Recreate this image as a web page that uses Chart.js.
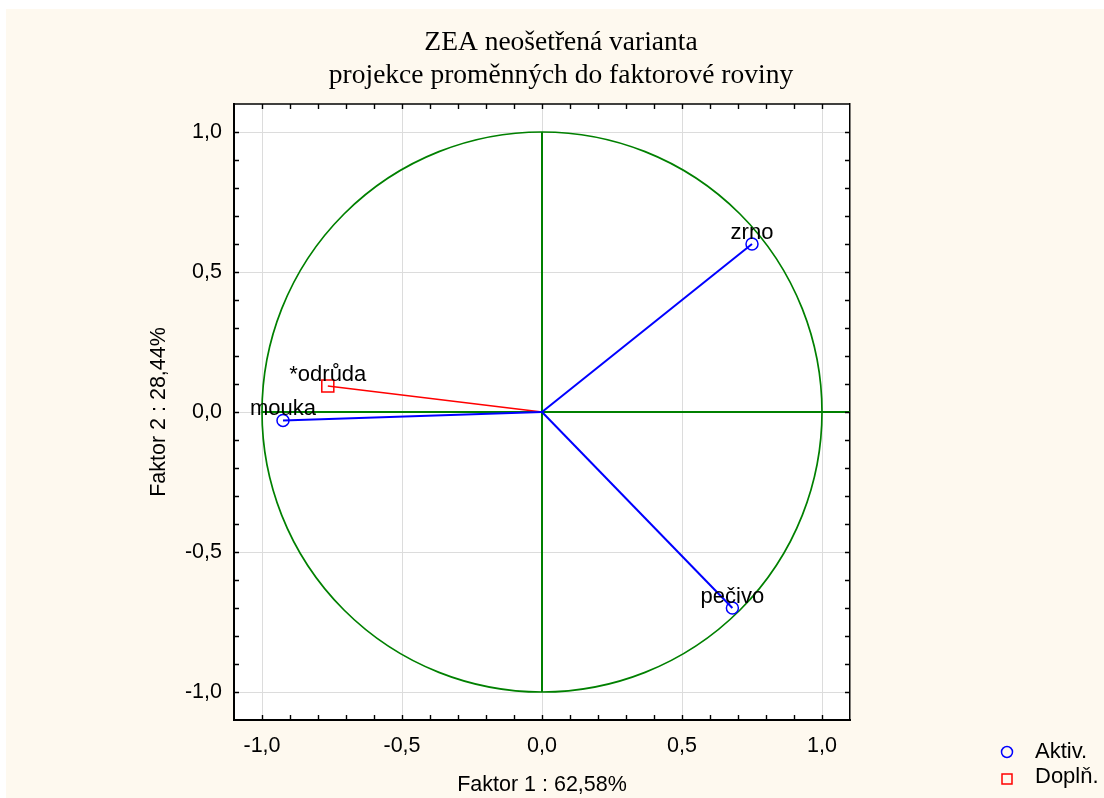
<!DOCTYPE html>
<html>
<head>
<meta charset="utf-8">
<script src="https://cdn.jsdelivr.net/npm/chart.js@4.4.0/dist/chart.umd.min.js"></script>
<style>
	html, body { margin: 0; padding: 0; background: #fff; }
</style>
</head>
<body>
<canvas id="graf" width="1104" height="798"></canvas>
<script>
// data
var nazvy = ["zrno", "pečivo", "mouka", "*odrůda"];
var faktor1 = [0.75, 0.68, -0.925, -0.765];
var faktor2 = [0.60, -0.70, -0.03, 0.093];
var skupina = ["Aktiv.", "Aktiv.", "Aktiv.", "Doplň."];
var tickyOs = [-1.0, -0.5, 0.0, 0.5, 1.0];
var nadpis = ["ZEA neošetřená varianta", "projekce proměnných do faktorové roviny"];
var popisX = "Faktor 1 : 62,58%";
var popisY = "Faktor 2 : 28,44%";
var skupiny = ["Aktiv.", "Doplň."];
var barvySkupin = { "Aktiv.": "#0000ff", "Doplň.": "#ff0000" };
var tvarySkupin = { "Aktiv.": "circle", "Doplň.": "rect" };

var sans = '"Liberation Sans", Arial, sans-serif';
var serif = '"Liberation Serif", "Times New Roman", serif';

carka = (v) => v.toFixed(1).replace('.', ',');

var datasety = [];
for (let i = 0; i < nazvy.length; i++) {
	let b = barvySkupin[skupina[i]];
	datasety.push({
		label: nazvy[i],
		data: [{ x: 0, y: 0 }, { x: faktor1[i], y: faktor2[i] }],
		showLine: true,
		borderColor: b,
		borderWidth: skupina[i] === "Aktiv." ? 2 : 1.5,
		pointRadius: [0, tvarySkupin[skupina[i]] === "rect" ? 8.5 : 6],
		pointStyle: tvarySkupin[skupina[i]],
		pointBorderColor: b,
		pointBackgroundColor: 'rgba(0,0,0,0)',
		pointBorderWidth: 1.5
	});
}

var kresleni = {
	id: 'kresleni',
	beforeDraw: (chart) => {
		const c = chart.ctx, a = chart.chartArea;
		c.save();
		c.fillStyle = '#ffffff';
		c.fillRect(0, 0, chart.width, chart.height);
		c.fillStyle = '#fef9ef';
		c.fillRect(6, 9, chart.width, chart.height);
		c.fillStyle = '#ffffff';
		c.fillRect(a.left, a.top, a.right - a.left, a.bottom - a.top);
		c.restore();
	},
	beforeDatasetsDraw: (chart) => {
		const c = chart.ctx, a = chart.chartArea;
		const xs = chart.scales.x, ys = chart.scales.y;
		const x0 = xs.getPixelForValue(0), y0 = ys.getPixelForValue(0);
		const rx = xs.getPixelForValue(1) - x0, ry = y0 - ys.getPixelForValue(1);
		c.save();
		c.strokeStyle = '#008000';
		c.lineWidth = 1.7;
		c.beginPath();
		c.ellipse(x0, y0, rx, ry, 0, 0, Math.PI * 2);
		c.stroke();
		c.lineWidth = 2;
		c.beginPath();
		c.moveTo(xs.getPixelForValue(-1), y0);
		c.lineTo(a.right, y0);
		c.moveTo(x0, ys.getPixelForValue(1));
		c.lineTo(x0, ys.getPixelForValue(-1));
		c.stroke();
		c.restore();
	},
	afterDraw: (chart) => {
		const c = chart.ctx, a = chart.chartArea;
		const xs = chart.scales.x, ys = chart.scales.y;
		c.save();
		// top frame
		c.strokeStyle = '#000';
		c.lineWidth = 1.5;
		c.beginPath();
		c.moveTo(a.left, a.top);
		c.lineTo(a.right, a.top);
		c.stroke();
		// inward ticks every 0.1
		c.lineWidth = 1.4;
		c.beginPath();
		for (let k = -10; k <= 10; k++) {
			let px = Math.round(xs.getPixelForValue(k / 10)) + 0.5;
			let py = Math.round(ys.getPixelForValue(k / 10)) + 0.5;
			c.moveTo(px, a.bottom); c.lineTo(px, a.bottom - 5);
			c.moveTo(px, a.top); c.lineTo(px, a.top + 5);
			c.moveTo(a.left, py); c.lineTo(a.left + 5, py);
			c.moveTo(a.right, py); c.lineTo(a.right - 5, py);
		}
		c.stroke();
		// point labels
		c.fillStyle = '#000';
		c.font = '22px ' + sans;
		c.textAlign = 'center';
		c.textBaseline = 'alphabetic';
		for (let i = 0; i < nazvy.length; i++) {
			let px = xs.getPixelForValue(faktor1[i]);
			let py = ys.getPixelForValue(faktor2[i]);
			c.fillText(nazvy[i], px, py - 5);
		}
		// legend
		c.textAlign = 'left';
		c.textBaseline = 'middle';
		c.lineWidth = 1.5;
		for (let j = 0; j < skupiny.length; j++) {
			let ly = 752 + j * 25;
			c.strokeStyle = barvySkupin[skupiny[j]];
			c.beginPath();
			if (tvarySkupin[skupiny[j]] === 'circle') {
				c.arc(1007, ly, 5.5, 0, Math.PI * 2);
			} else {
				c.rect(1002, ly - 3, 10, 10);
			}
			c.stroke();
			c.fillText(skupiny[j], 1035, ly);
		}
		c.restore();
	}
};

var graf = new Chart(document.getElementById('graf'), {
	type: 'scatter',
	data: { datasets: datasety },
	plugins: [kresleni],
	options: {
		responsive: false,
		animation: false,
		layout: { padding: { left: 18, right: 0, top: 0, bottom: 0 } },
		plugins: {
			legend: { display: false },
			tooltip: { enabled: false },
			title: {
				display: true,
				text: nadpis,
				color: '#000',
				font: { family: serif, size: 27.5, weight: 'normal', lineHeight: 1.2 },
				padding: { top: 26, bottom: 12 }
			}
		},
		scales: {
			x: {
				type: 'linear',
				min: -1.1,
				max: 1.1,
				afterBuildTicks: (s) => { s.ticks = tickyOs.map(v => ({ value: v })); },
				afterFit: (s) => { s.height = 78; },
				ticks: { callback: (v) => carka(v), color: '#000', font: { family: sans, size: 21.5 }, padding: 13, maxRotation: 0 },
				grid: { color: '#dcdcdc', drawTicks: false, lineWidth: 1 },
				border: { color: '#000', width: 2 },
				title: { display: true, text: popisX, color: '#000', font: { family: sans, size: 21.5 }, padding: { top: 0, bottom: 0 } }
			},
			y: {
				type: 'linear',
				min: -1.1,
				max: 1.1,
				afterBuildTicks: (s) => { s.ticks = tickyOs.map(v => ({ value: v })); },
				afterFit: (s) => { s.width = 216; },
				ticks: { callback: (v) => carka(v), color: '#000', font: { family: sans, size: 21.5 }, padding: 12 },
				grid: { color: '#dcdcdc', drawTicks: false, lineWidth: 1 },
				border: { color: '#000', width: 2 },
				title: { display: true, text: popisY, color: '#000', font: { family: sans, size: 21.5 }, padding: { top: 128, bottom: 0 } }
			},
			y2: {
				type: 'linear',
				position: 'right',
				afterFit: (s) => { s.width = 254; },
				ticks: { display: false },
				grid: { display: false, drawTicks: false },
				border: { color: '#000', width: 1.5 }
			}
		}
	}
});
</script>
</body>
</html>
